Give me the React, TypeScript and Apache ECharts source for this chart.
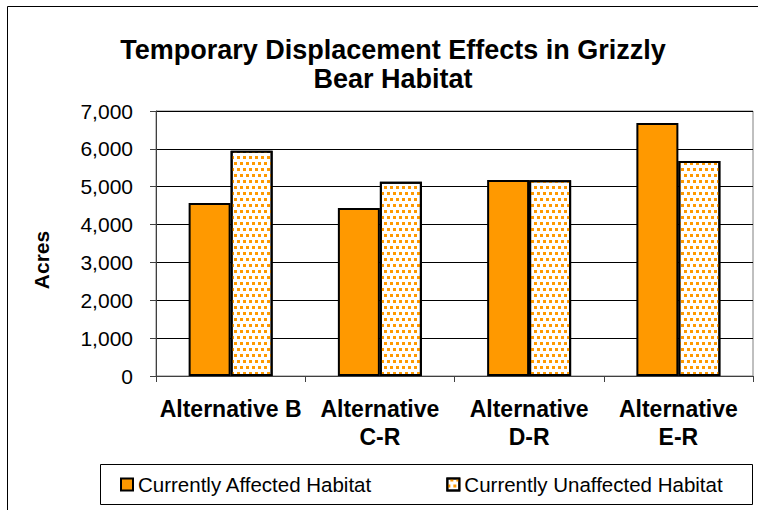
import React, { useEffect, useRef } from "react";
import * as echarts from "echarts";

const categories = ["Alternative B", "Alternative\nC-R", "Alternative\nD-R", "Alternative\nE-R"];
const affected = [4570, 4440, 5180, 6680];
const unaffected = [5950, 5130, 5170, 5680];
const seriesNames = ["Currently Affected Habitat", "Currently Unaffected Habitat"];
const titleText = "Temporary Displacement Effects in Grizzly\nBear Habitat";
const yAxisTitle = "Acres";

const FONT = "'Liberation Sans', Arial, sans-serif";
const ORANGE = "#FF9900";

export default function App() {
  const ref = useRef<HTMLDivElement>(null);
  useEffect(() => {
    if (!ref.current) return;
    const chart = echarts.init(ref.current, null, { renderer: "svg" });
    chart.setOption({
      animation: false,
      backgroundColor: "#fff",
      title: {
        text: titleText,
        left: 393,
        textAlign: "center",
        top: 35,
        padding: 0,
        textStyle: { fontFamily: FONT, fontWeight: "bold", fontSize: 27, lineHeight: 29, color: "#000" },
      },
      graphic: [
        {
          type: "rect",
          shape: { x: 7.5, y: 6.5, width: 800, height: 600 },
          style: { fill: "none", stroke: "#000", lineWidth: 1 },
          silent: true,
          z: -1,
        },
        {
          type: "rect",
          shape: { x: 100.5, y: 464.5, width: 652, height: 40 },
          style: { fill: "none", stroke: "#000", lineWidth: 1 },
          silent: true,
        },
        {
          type: "text",
          x: 41,
          y: 260,
          rotation: Math.PI / 2,
          style: {
            text: yAxisTitle,
            fontFamily: FONT,
            fontWeight: "bold",
            fontSize: 21,
            fill: "#000",
            textAlign: "center",
            textVerticalAlign: "middle",
          },
          silent: true,
        },
      ],
      legend: {
        left: 120,
        top: 474,
        itemWidth: 12,
        itemHeight: 12,
        itemGap: 74,
        icon: "rect",
        padding: 0,
        textStyle: { fontFamily: FONT, fontSize: 20.5, color: "#000", padding: [0, 0, 0, 0] },
        data: seriesNames,
      },
      grid: {
        left: 156,
        right: 5,
        top: 111,
        bottom: 134,
        show: true,
        borderColor: "#808080",
        borderWidth: 1,
        backgroundColor: "transparent",
      },
      xAxis: {
        type: "category",
        data: categories,
        axisLine: { lineStyle: { color: "#404040", width: 1 } },
        axisTick: { show: true, length: 6, lineStyle: { color: "#404040" } },
        axisLabel: {
          fontFamily: FONT,
          fontWeight: "bold",
          fontSize: 23,
          lineHeight: 28,
          color: "#000",
          margin: 19,
          interval: 0,
        },
      },
      yAxis: {
        type: "value",
        min: 0,
        max: 7000,
        interval: 1000,
        axisLine: { show: true, lineStyle: { color: "#404040", width: 1 } },
        axisTick: { show: true, length: 6, lineStyle: { color: "#404040" } },
        axisLabel: {
          fontFamily: FONT,
          fontSize: 21,
          color: "#000",
          margin: 23,
          formatter: (v: number) => v.toLocaleString("en-US"),
        },
        splitLine: { show: true, lineStyle: { color: "#000", width: 1 } },
      },
      series: [
        {
          name: seriesNames[0],
          type: "bar",
          data: affected,
          barWidth: 42,
          barGap: "0%",
          itemStyle: { color: ORANGE, borderColor: "#000", borderWidth: 2 },
        },
        {
          name: seriesNames[1],
          type: "bar",
          data: unaffected,
          barWidth: 42,
          barGap: "0%",
          itemStyle: {
            color: "#fff",
            borderColor: "#000",
            borderWidth: 2,
            decal: {
              symbol: "rect",
              symbolSize: 1,
              color: ORANGE,
              backgroundColor: "#fff",
              dashArrayX: [[3, 3], [0, 3, 3, 0]],
              dashArrayY: [3, 3],
              rotation: 0,
            },
          },
        },
      ],
    });
    return () => chart.dispose();
  }, []);
  return (
    <div
      ref={ref}
      style={{ position: "fixed", left: 0, top: 0, width: 758, height: 510 }}
    />
  );
}
